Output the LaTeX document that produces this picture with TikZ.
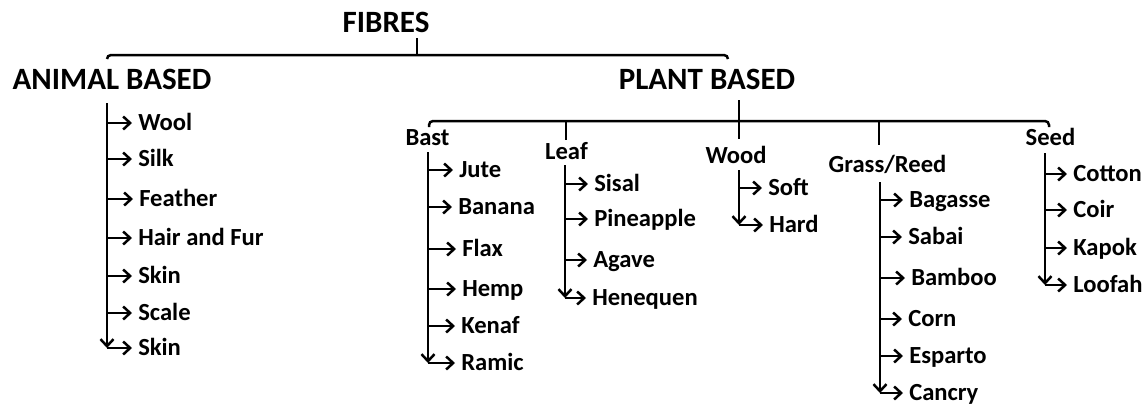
\documentclass[tikz,border=0pt]{standalone}
\usepackage{fontspec}
\setmainfont{Carlito}
\usetikzlibrary{arrows.meta}
\tikzset{heading/.style = {font = \bfseries\fontsize{15.5}{18}\selectfont, inner sep = 0, text height = 9.75pt, text depth = 0pt}}
\tikzset{group/.style = {font = \bfseries\fontsize{12.3}{14}\selectfont, inner sep = 0, text height = 7.6pt, text depth = 0pt}}
\tikzset{item/.style = {group, anchor = west, inner xsep = 2.5pt}}
\tikzset{branch/.style = {-{Straight Barb[length = 3.5pt, width = 6.5pt]}}}

\begin{document}
\begin{tikzpicture}[x = 0.5pt, y = -0.5pt, line width = 1.25pt]
    \useasboundingbox (0, 0) rectangle (1148, 404);

    \node [heading] (fibres) at (386, 23) {FIBRES};
    \node [heading] (animal) at (112, 80) {ANIMAL BASED};
    \node [heading] (plant) at (707, 80) {PLANT BASED};

    \draw (417, 38) -- (417, 55);
    \draw [rounded corners = 2pt] (107, 59) -- (107, 55) -- (728, 55) -- (728, 59);

    % animal based
    \coordinate (animal-trunk) at (107, 103);
    \node [item] (wool) at (132, 123) {Wool};
    \node [item] (silk) at (132, 159) {Silk};
    \node [item] (feather) at (133, 199) {Feather};
    \node [item] (hair) at (132, 238) {Hair and Fur};
    \node [item] (skin-a) at (132, 276) {Skin};
    \node [item] (scale) at (132, 313) {Scale};
    \node [item] (skin-b) at (132, 348) {Skin};
    \draw [branch] (animal-trunk) -- (animal-trunk |- skin-b.west);
    \foreach \n in {wool, silk, feather, hair, skin-a, scale, skin-b}
        \draw [branch] (animal-trunk |- \n.west) -- (\n.west);

    % plant based
    \draw (739, 100) -- (739, 121);
    \draw [rounded corners = 2pt] (429, 127) -- (429, 121) -- (1049, 121) -- (1049, 127);
    \draw (566, 121) -- (566, 140);
    \draw (739, 121) -- (739, 139);
    \draw (879, 121) -- (879, 145);

    \node [group] (bast) at (427.5, 138) {Bast};
    \node [group] (leaf) at (566.5, 152) {Leaf};
    \node [group] (wood) at (736, 156) {Wood};
    \node [group] (grass) at (887.5, 165) {Grass/Reed};
    \node [group] (seed) at (1050.5, 138) {Seed};

    % bast
    \coordinate (bast-trunk) at (428, 152);
    \node [item] (jute) at (453, 170) {Jute};
    \node [item] (banana) at (452, 207) {Banana};
    \node [item] (flax) at (456, 249) {Flax};
    \node [item] (hemp) at (456, 289) {Hemp};
    \node [item] (kenaf) at (455, 326) {Kenaf};
    \node [item] (ramic) at (455, 363) {Ramic};
    \draw [branch] (bast-trunk) -- (bast-trunk |- ramic.west);
    \foreach \n in {jute, banana, flax, hemp, kenaf, ramic}
        \draw [branch] (bast-trunk |- \n.west) -- (\n.west);

    % leaf
    \coordinate (leaf-trunk) at (565, 165);
    \node [item] (sisal) at (588, 184) {Sisal};
    \node [item] (pineapple) at (588, 219) {Pineapple};
    \node [item] (agave) at (587, 260) {Agave};
    \node [item] (henequen) at (586, 298) {Henequen};
    \draw [branch] (leaf-trunk) -- (leaf-trunk |- henequen.west);
    \foreach \n in {sisal, pineapple, agave, henequen}
        \draw [branch] (leaf-trunk |- \n.west) -- (\n.west);

    % wood
    \coordinate (wood-trunk) at (739, 170);
    \node [item] (soft) at (762, 188) {Soft};
    \node [item] (hard) at (763, 225) {Hard};
    \draw [branch] (wood-trunk) -- (wood-trunk |- hard.west);
    \foreach \n in {soft, hard}
        \draw [branch] (wood-trunk |- \n.west) -- (\n.west);

    % grass/reed
    \coordinate (grass-trunk) at (880, 182);
    \node [item] (bagasse) at (903, 200) {Bagasse};
    \node [item] (sabai) at (902, 237) {Sabai};
    \node [item] (bamboo) at (905, 278) {Bamboo};
    \node [item] (corn) at (902, 319) {Corn};
    \node [item] (esparto) at (903, 356) {Esparto};
    \node [item] (cancry) at (903, 393) {Cancry};
    \draw [branch] (grass-trunk) -- (grass-trunk |- cancry.west);
    \foreach \n in {bagasse, sabai, bamboo, corn, esparto, cancry}
        \draw [branch] (grass-trunk |- \n.west) -- (\n.west);

    % seed
    \coordinate (seed-trunk) at (1045, 153);
    \node [item] (cotton) at (1067, 174) {Cotton};
    \node [item] (coir) at (1067, 210) {Coir};
    \node [item] (kapok) at (1067, 248) {Kapok};
    \node [item] (loofah) at (1067, 285) {Loofah};
    \draw [branch] (seed-trunk) -- (seed-trunk |- loofah.west);
    \foreach \n in {cotton, coir, kapok, loofah}
        \draw [branch] (seed-trunk |- \n.west) -- (\n.west);
\end{tikzpicture}
\end{document}
